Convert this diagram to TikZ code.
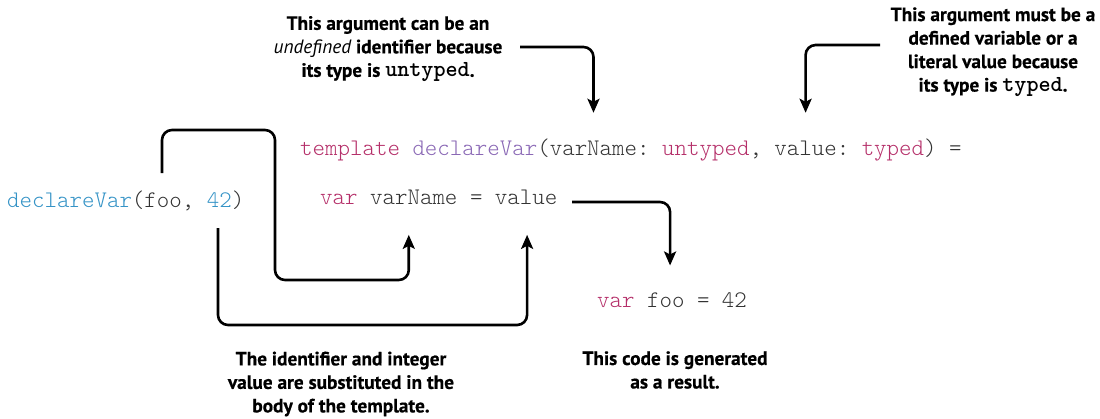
\documentclass[tikz,border=0pt]{standalone}
\usepackage{fontspec}
\setmainfont{PT Sans}[BoldFeatures={FakeBold=0.5}]
\setmonofont{lmmonolt10-regular.otf}[BoldFont=lmmonolt10-bold.otf]
\usetikzlibrary{arrows.meta}
\definecolor{kw}{HTML}{B5306A}
\definecolor{fn}{HTML}{8A68B5}
\definecolor{callc}{HTML}{3593C6}
\definecolor{txt}{HTML}{333333}
\newcommand{\ntt}[1]{{\ttfamily\fontsize{23}{23.5}\selectfont #1}}
\begin{document}
\begin{tikzpicture}[x=1pt,y=-1pt,
  code/.style={inner sep=0pt, anchor=mid west, text=txt,
    font=\ttfamily\fontsize{23.77}{26}\selectfont},
  note/.style={align=center, inner sep=0pt, text=black,
    font=\bfseries\fontsize{19.3}{23.5}\selectfont},
  conn/.style={line width=2.6pt, rounded corners=10pt,
    -{Stealth[length=14pt,width=12pt,inset=3pt]}},
]
\useasboundingbox (0,0) rectangle (1100,418);
% line 1
\node[code] (l1a) at (300,153) {\textcolor{kw}{template} \textcolor{fn}{declareVar}(};
\node[code] (pvarname) at (549.6,153) {varName};
\node[code] (l1b) at (637,153) {: \textcolor{kw}{untyped}, };
\node[code] (pvalue) at (774.2,153) {value};
\node[code] (l1c) at (836.6,153) {: \textcolor{kw}{typed}) =};
% line 2
\node[code] (var2) at (320,202) {\textcolor{kw}{var}};
\node[code] (vn) at (369.9,202) {varName};
\node[code] (eq2) at (469.8,202) {=};
\node[code] (val2) at (494.7,202) {value};
% call
\node[code] (call) at (7,205) {\textcolor{callc}{declareVar}(foo, \textcolor{callc}{42})};
% result
\node[code] (res) at (597,305) {\textcolor{kw}{var} foo = 42};
% notes
\node[note] (n1) at (388,49) {This argument can be an\\
  {\mdseries\itshape undefined} identifier because\\
  its type is \ntt{untyped}.};
\node[note] (n2) at (993,52) {This argument must be a\\
  defined variable or a\\ literal value because\\
  its type is \ntt{typed}.};
\node[note] (n3) at (341,384) {The identifier and integer\\
  value are substituted in the\\ body of the template.};
\node[note] (n4) at (675,370) {This code is generated\\ as a result.};
% connector start points
\coordinate (s1) at (520,47);
\coordinate (s2) at (880,45);
\coordinate (sa) at (162,173);
\coordinate (sb) at (218,228);
\coordinate (sc) at (572,202);
% connectors
\draw[conn, shorten >=28pt] (s1) -| (pvarname.north);
\draw[conn, shorten >=28pt] (s2) -| (pvalue.north);
\draw[conn, shorten >=30pt] (sa) -- (162,130) -- (275,130) -- (275,280) -| ([xshift=-5pt]vn.south);
\draw[conn, shorten >=30pt] (sb) -- (218,325) -| ([xshift=1pt]val2.south);
\draw[conn, shorten >=27pt] (sc) -| ([xshift=-2pt]res.north);
\end{tikzpicture}
\end{document}
